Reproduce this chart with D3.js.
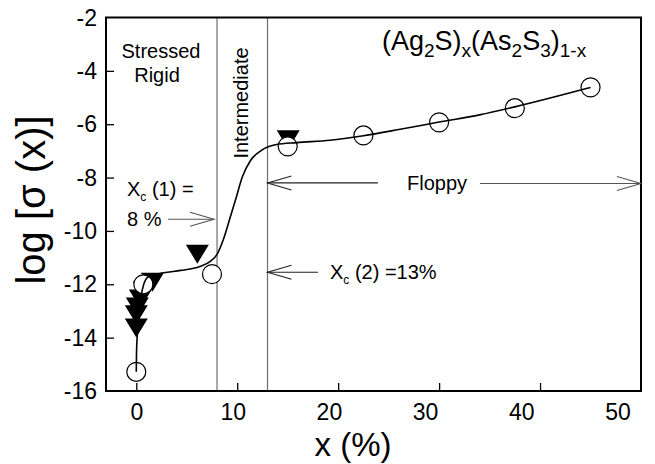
<!DOCTYPE html>
<html>
<head>
<meta charset="utf-8">
<script src="https://cdn.jsdelivr.net/npm/d3@7"></script>
<style>
  html, body { margin: 0; padding: 0; background: #fff; }
  svg { display: block; font-family: "Liberation Sans", Arial, sans-serif; }
</style>
</head>
<body>
<svg id="chart" width="655" height="464"></svg>
<script>
// ---------------- data ----------------
const circleX = [0, 0.7, 7.5, 15, 22.5, 30, 37.5, 45];
const circleY = [-15.28, -12.0, -11.62, -6.83, -6.42, -5.93, -5.4, -4.62];

const triX = [0, 0, 0.1, 0.4, 0.8, 1.6, 6.05, 15.05];
const triY = [-13.64, -13.14, -12.85, -12.55, -12.25, -11.92, -10.87, -6.58];

const fitX = [0, 0.02, 0.1, 0.3, 0.7, 1.2, 2.7, 4.4, 6.3, 7.3, 8.0, 8.6, 9.3, 9.9, 10.5, 11.3, 12.4, 13.9, 15.9, 19.2, 22.5, 26, 30, 34, 37.5, 41, 45];
const fitY = [-15.28, -14.6, -13.9, -13.0, -12.05, -11.72, -11.57, -11.48, -11.33, -11.15, -10.88, -10.35, -9.5, -8.75, -7.98, -7.37, -6.98, -6.76, -6.69, -6.6, -6.43, -6.2, -5.92, -5.65, -5.35, -5.02, -4.62];

const xTickValues = [0, 10, 20, 30, 40, 50];
const xTickLabels = ["0", "10", "20", "30", "40", "50"];
const yTickValues = [-2, -4, -6, -8, -10, -12, -14, -16];
const yTickLabels = ["-2", "-4", "-6", "-8", "-10", "-12", "-14", "-16"];

const regionLines = [8, 13];

// ---------------- scales ----------------
const svg = d3.select("#chart");
const x = d3.scaleLinear().domain([-3, 50]).range([106, 641]);
const y = d3.scaleLinear().domain([-16, -2]).range([391, 17.5]);
// tick labels in the original are placed on a slightly compressed grid
const xLabel = d3.scaleLinear().domain([0, 50]).range([137, 618]);

const FONT = "'Liberation Sans', Arial, sans-serif";

// ---------------- region lines ----------------
svg.append("g").selectAll("line").data(regionLines).join("line")
  .attr("x1", d => x(d)).attr("x2", d => x(d))
  .attr("y1", y(-2)).attr("y2", y(-16))
  .attr("stroke", "#6e6e6e").attr("stroke-width", 1.2);

// ---------------- axes ticks (inward) ----------------
const xAxis = d3.axisBottom(x).tickValues(xTickValues.slice(0, 5)).tickSize(-8).tickFormat("");
const gx = svg.append("g").attr("transform", `translate(0,${y(-16)})`).call(xAxis);
gx.select(".domain").remove();
gx.selectAll(".tick line").attr("stroke", "#000").attr("stroke-width", 1.3);

const yAxis = d3.axisLeft(y).tickValues(yTickValues.slice(1, 7)).tickSize(-8).tickFormat("");
const gy = svg.append("g").attr("transform", `translate(${x(-3)},0)`).call(yAxis);
gy.select(".domain").remove();
gy.selectAll(".tick line").attr("stroke", "#000").attr("stroke-width", 1.3);

// tick labels
svg.append("g").selectAll("text").data(xTickValues).join("text")
  .attr("x", d => xLabel(d)).attr("y", 420)
  .attr("text-anchor", "middle")
  .style("font-size", "23px").style("font-family", FONT)
  .text((d, i) => xTickLabels[i]);

svg.append("g").selectAll("text").data(yTickValues).join("text")
  .attr("x", x(-3) - 9).attr("y", d => y(d) + 8)
  .attr("text-anchor", "end")
  .style("font-size", "23px").style("font-family", FONT)
  .text((d, i) => yTickLabels[i]);

// frame
svg.append("rect")
  .attr("x", x(-3)).attr("y", y(-2))
  .attr("width", x(50) - x(-3)).attr("height", y(-16) - y(-2))
  .attr("fill", "none").attr("stroke", "#000").attr("stroke-width", 2);

// ---------------- markers ----------------
const triW = 23, triH = 19;
svg.append("g").selectAll("path").data(triX.map((d, i) => [d, triY[i]])).join("path")
  .attr("d", d => {
    const cx = x(d[0]), cy = y(d[1]);
    return `M${cx - triW / 2},${cy - triH / 2}L${cx + triW / 2},${cy - triH / 2}L${cx},${cy + triH / 2}Z`;
  })
  .attr("fill", "#000");

svg.append("g").selectAll("circle").data(circleX.map((d, i) => [d, circleY[i]])).join("circle")
  .attr("cx", d => x(d[0])).attr("cy", d => y(d[1])).attr("r", 9.5)
  .attr("fill", "#fff").attr("stroke", "#000").attr("stroke-width", 1.2);

// fitted curve
const line = d3.line().x(d => x(d[0])).y(d => y(d[1])).curve(d3.curveMonotoneX);
svg.append("path").datum(fitX.map((d, i) => [d, fitY[i]]))
  .attr("d", line).attr("fill", "none").attr("stroke", "#000").attr("stroke-width", 1.6);

// ---------------- annotations ----------------
function arrow(x1, x2, yv, color) {
  const px1 = x(x1), px2 = x(x2), py = y(yv);
  const dir = Math.sign(px2 - px1);
  svg.append("line").attr("x1", px1).attr("x2", px2).attr("y1", py).attr("y2", py)
    .attr("stroke", color).attr("stroke-width", 1.1);
  svg.append("path")
    .attr("d", `M${px2 - dir * 24},${py - 7}L${px2},${py}L${px2 - dir * 24},${py + 7}`)
    .attr("fill", "none").attr("stroke", color).attr("stroke-width", 1.1);
}

const annot = svg.append("g").style("font-family", FONT).style("font-size", "20px");
annot.append("text").attr("x", 161).attr("y", 58).attr("text-anchor", "middle").text("Stressed");
annot.append("text").attr("x", 157).attr("y", 82).attr("text-anchor", "middle").text("Rigid");
annot.append("text").attr("transform", "translate(248,103) rotate(-90)")
  .attr("text-anchor", "middle").text("Intermediate");

const xc1 = annot.append("text").attr("x", 127).attr("y", 196);
xc1.append("tspan").text("X");
xc1.append("tspan").attr("dy", 5).style("font-size", "12px").text("c");
xc1.append("tspan").attr("dy", -5).text(" (1) =");
annot.append("text").attr("x", 127).attr("y", 226).text("8 %");
arrow(3.14, 7.7, -9.56, "#555");

const xc2 = annot.append("text").attr("x", 330).attr("y", 279);
xc2.append("tspan").text("X");
xc2.append("tspan").attr("dy", 5).style("font-size", "12px").text("c");
xc2.append("tspan").attr("dy", -5).text(" (2) =13%");
arrow(18, 13, -11.55, "#222");

annot.append("text").attr("x", 437).attr("y", 190).attr("text-anchor", "middle").text("Floppy");
arrow(23.95, 13, -8.2, "#222");
arrow(34.05, 50, -8.22, "#555");

// formula
const f = svg.append("text").attr("x", 382).attr("y", 50)
  .style("font-family", FONT).style("font-size", "27px");
const parts = [["(Ag", 0], ["2", 1], ["S)", 0], ["x", 1], ["(As", 0], ["2", 1], ["S", 0], ["3", 1], [")", 0], ["1-x", 1]];
let sub = 0;
parts.forEach(([t, s]) => {
  const ts = f.append("tspan").text(t);
  if (s && !sub) { ts.attr("dy", 7).style("font-size", "19px"); sub = 1; }
  else if (s) { ts.style("font-size", "19px"); }
  else if (!s && sub) { ts.attr("dy", -7); sub = 0; }
});

// axis titles
svg.append("text").attr("x", 353).attr("y", 456).attr("text-anchor", "middle")
  .style("font-family", FONT).style("font-size", "33px").text("x (%)");
svg.append("text").attr("transform", "translate(45,200) rotate(-90)").attr("text-anchor", "middle")
  .style("font-family", FONT).style("font-size", "40px").text("log [σ (x)]");
</script>
</body>
</html>
